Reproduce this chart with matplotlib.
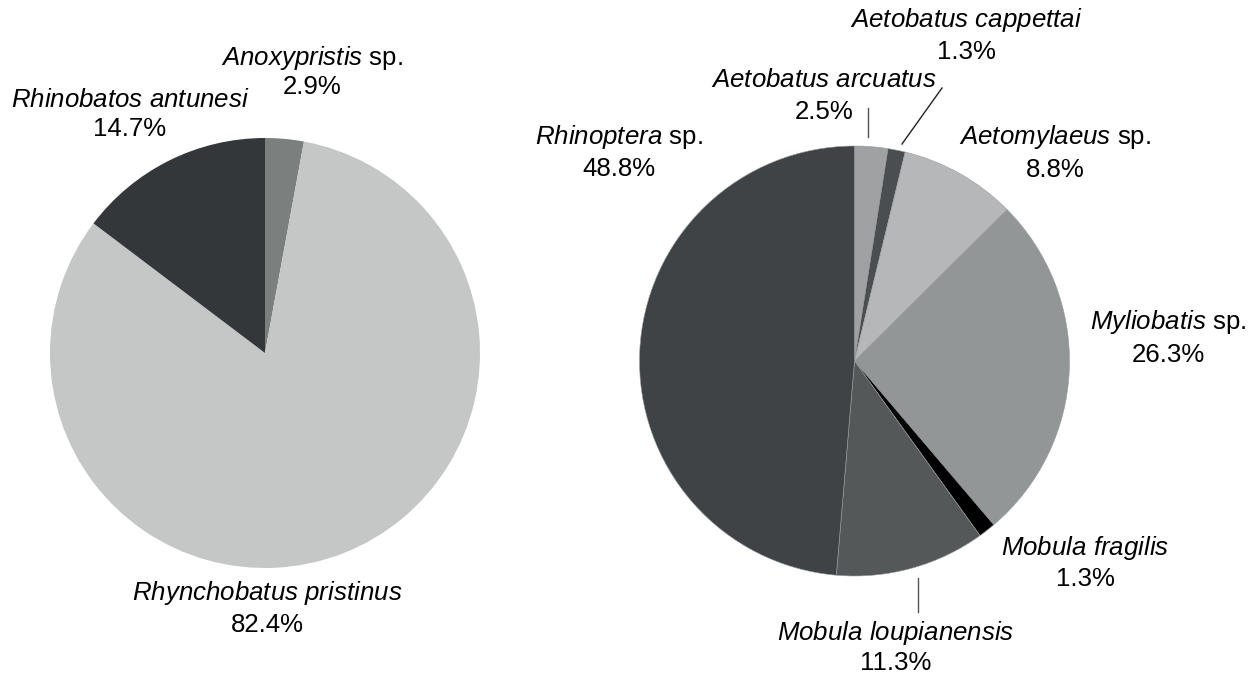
import matplotlib.pyplot as plt

plt.rcParams['font.family'] = ['Liberation Sans', 'DejaVu Sans']
plt.rcParams['mathtext.fontset'] = 'custom'
plt.rcParams['mathtext.it'] = 'Liberation Sans:italic'
plt.rcParams['mathtext.rm'] = 'Liberation Sans'

# left pie: Rhinopristiformes
left_names = ["Anoxypristis", "Rhynchobatus pristinus", "Rhinobatos antunesi"]
left_sp = [True, False, False]
left_values = [2.9, 82.4, 14.7]
left_colors = ["#7b807f", "#c4c7c5", "#33373a"]

# right pie: Myliobatiformes
right_names = ["Aetobatus arcuatus", "Aetobatus cappettai", "Aetomylaeus",
               "Myliobatis", "Mobula fragilis", "Mobula loupianensis", "Rhinoptera"]
right_sp = [False, False, True, True, False, False, True]
right_values = [2.5, 1.3, 8.8, 26.3, 1.3, 11.3, 48.8]
right_colors = ["#a0a1a2", "#4b4e50", "#b6b7b8", "#939697", "#000000", "#545858", "#3f4346"]

W, H = 1253, 678
FS = 18.6

# label centres (pixels from top-left): x, name line y, percent line y
left_pos = [(312, 58, 87), (267, 593, 625), (130, 100, 129)]
right_pos = [(824, 80, 112), (966, 20, 52), (1055, 137, 170), (1168, 322, 355),
             (1085, 548, 579), (896, 633, 663), (619, 137, 169)]


def label(ax, name, sp, value, pos):
    x, y1, y2 = pos
    txt = r"$\mathit{" + name.replace(" ", r"\ ") + r"}$"
    if sp:
        txt += " sp."
    ax.text(x, H - y1, txt, ha="center", va="center", fontsize=FS)
    ax.text(x, H - y2, f"{value:.1f}%", ha="center", va="center", fontsize=FS)


fig = plt.figure(figsize=(W / 100, H / 100), dpi=100)
ax = fig.add_axes([0, 0, 1, 1])

ax.pie(left_values, colors=left_colors, startangle=90, counterclock=False,
       radius=215, center=(265, H - 353), wedgeprops=dict(linewidth=0))
ax.pie(right_values, colors=right_colors, startangle=90, counterclock=False,
       radius=215, center=(854.5, H - 361), wedgeprops=dict(linewidth=0.4, edgecolor="#9a9c9c"))

for n, s, v, p in zip(left_names, left_sp, left_values, left_pos):
    label(ax, n, s, v, p)
for n, s, v, p in zip(right_names, right_sp, right_values, right_pos):
    label(ax, n, s, v, p)

# leader lines
ax.plot([868, 868], [H - 108, H - 137], color="#555555", lw=1)
ax.plot([942, 902], [H - 88, H - 144], color="#222222", lw=1)
ax.plot([918, 918], [H - 578, H - 612], color="#555555", lw=1)

ax.set_aspect("auto")
ax.set_xlim(0, W)
ax.set_ylim(0, H)
ax.axis("off")

fig.savefig("out.png", dpi=100)
